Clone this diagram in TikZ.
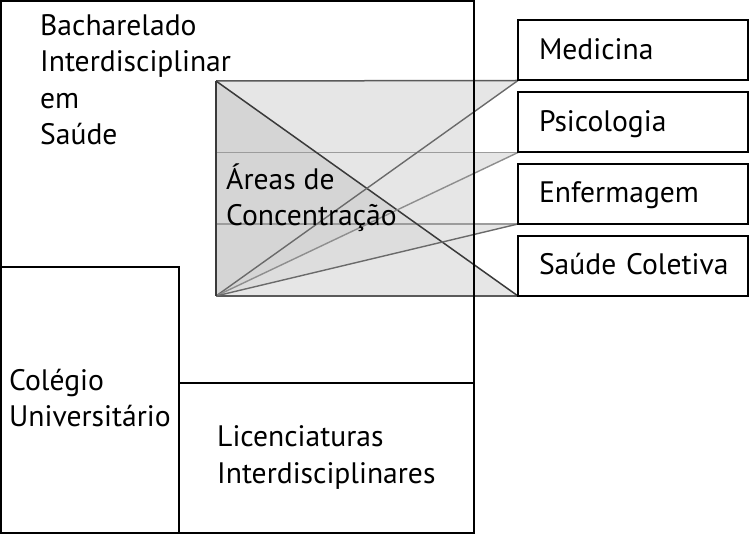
\documentclass[tikz,border=0pt]{standalone}
\usepackage{fontspec}
\setmainfont{PT Sans}
\definecolor{lightfill}{HTML}{E6E6E6}
\definecolor{darkfill}{HTML}{D5D5D5}
\definecolor{midfill}{HTML}{DDDDDD}
\definecolor{edgegray}{HTML}{3A3A3A}
\definecolor{linegray}{HTML}{5A5A5A}
\definecolor{fangray}{HTML}{6A6A6A}
\definecolor{palegray}{HTML}{8E8E8E}
\definecolor{bandgray}{HTML}{9C9C9C}
\begin{document}
\begin{tikzpicture}[x=1pt,y=-1pt,
  txt/.style={font=\fontsize{29.6}{36.5}\selectfont, inner sep=0pt, anchor=base west, align=left},
  frame/.style={draw=black, line width=2pt, inner sep=0pt, outer sep=0pt},
  rbox/.style={frame, minimum width=230pt, minimum height=60pt, font=\fontsize{29.6}{36.5}\selectfont,
     text height=18pt, text depth=0pt, inner xsep=21pt, text width=188pt, align=left},
  shade/.style={inner sep=0pt, outer sep=0pt},
  fan/.style={line width=1.4pt, draw=fangray},
  band/.style={line width=1.4pt, draw=bandgray}]
\useasboundingbox (0,0) rectangle (750,534);
% right boxes (placed first for coordinates; redrawn on top later)
\node[rbox] (med) at (633,50.5) {Medicina};
\node[rbox] (psi) at (633,122.5) {Psicologia};
\node[rbox] (enf) at (633,194) {Enfermagem};
\node[rbox] (sc)  at (633,266) {\mbox{Saúde Coletiva}};
% concentration area
\node[shade, fill=lightfill, minimum width=258pt, minimum height=215pt] (areas) at (345,188.5) {};
\coordinate (A) at (areas.north west);
\coordinate (B) at (areas.south west);
\coordinate (P1) at (areas.west |- psi.south west);
\coordinate (P2) at (areas.west |- enf.south west);
% projection fills
\fill[lightfill] (A) -- (med.south west) -- (B) -- cycle;
\fill[lightfill] (P1) -- (psi.south west) -- (B) -- cycle;
\fill[lightfill] (P2) -- (enf.south west) -- (B) -- cycle;
\fill[lightfill] (A) -- (sc.south west) -- (B) -- cycle;
\coordinate (X1) at (intersection of A--sc.south west and B--psi.south west);
\coordinate (X2) at (intersection of A--sc.south west and B--enf.south west);
\fill[darkfill] (A) -- (X1) -- (B) -- cycle;
\fill[midfill] (X1) -- (X2) -- (B) -- cycle;
% projection lines
\draw[band] (P1) -- (psi.south west);
\draw[band] (P2) -- (enf.south west);
\draw[line width=1.5pt, draw=linegray] (A) -- (med.south west);
\draw[line width=1.5pt, draw=linegray] (B) -- (sc.south west);
\draw[line width=1.5pt, draw=edgegray] (A) -- (sc.south west);
\draw[fan] (B) -- (med.south west);
\draw[fan, draw=palegray] (B) -- (psi.south west);
\draw[fan] (B) -- (enf.south west);
\draw[line width=2pt, draw=edgegray] (A) -- (B);
% texts (anchor = baseline of last line)
\node[txt] (areastxt) at (226,226) {Áreas de\\Concentração};
\node[txt] (bachtxt) at (40,145) {Bacharelado\\Interdisciplinar\\em\\Saúde};
\node[txt] (coltxt) at (9,427) {Colégio\\Universitário};
\node[txt] (lictxt) at (217,483) {Licenciaturas\\Interdisciplinares};
% black frames
\node[frame, minimum width=473pt, minimum height=531.5pt] (bach) at (237.5,266.75) {};
\node[frame, minimum width=177.5pt, minimum height=265.5pt] (col) at (89.75,399.75) {};
\node[frame, minimum width=295.5pt, minimum height=149.5pt] (lic) at (326.25,457.75) {};
\foreach \b in {med,psi,enf,sc} \draw[line width=2pt] (\b.north west) rectangle (\b.south east);
\end{tikzpicture}
\end{document}
